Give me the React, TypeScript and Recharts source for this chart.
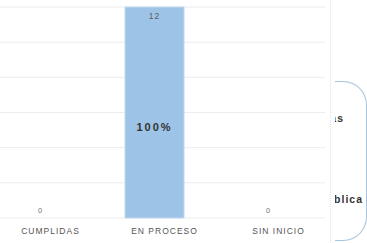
import { BarChart, Bar, XAxis, YAxis, CartesianGrid, LabelList } from "recharts"

const categories = ["CUMPLIDAS", "EN PROCESO", "SIN INICIO"]
const counts = [0, 12, 0]
const percents = [0, 100, 0]
const yTicks = [0, 2, 4, 6, 8, 10, 12]

const data = categories.map((name, i) => ({ name, count: counts[i], pct: percents[i] }))

// les barres à zéro n'ont pas de rectangle, on met leur valeur via le tick
function CategoryTick(props: any) {
  const { x, y, payload, index } = props
  const c = counts[payload?.index ?? index]
  return (
    <g>
      {c === 0 && (
        <text x={x} y={y - 5.5} textAnchor="middle" fontSize={7.5} fill="#777">
          {c}
        </text>
      )}
      <text
        x={x + 10.5}
        y={y + 16}
        textAnchor="middle"
        fontSize={8.5}
        fill="#555"
        letterSpacing={1}
      >
        {payload.value}
      </text>
    </g>
  )
}

function CountLabel(props: any) {
  const { x, y, width, value } = props
  if (!value) return null
  return (
    <text x={x + width / 2} y={y + 12} textAnchor="middle" fontSize={8.5} fill="#5f5f5f" letterSpacing={1}>
      {value}
    </text>
  )
}

function PctLabel(props: any) {
  const { x, y, width, height, value } = props
  if (!value) return null
  return (
    <text
      x={x + width / 2}
      y={y + height * 0.57 + 4}
      textAnchor="middle"
      fontSize={11}
      fontWeight={700}
      fill="#333"
      letterSpacing={2}
    >
      {`${value}%`}
    </text>
  )
}

export default function App() {
  return (
    <div
      style={{
        position: "fixed",
        left: 0,
        top: 0,
        width: 367,
        height: 243,
        overflow: "hidden",
        background: "#fff",
        fontFamily: "Arial, 'Liberation Sans', sans-serif",
      }}
    >
      <div style={{ position: "absolute", left: -17, top: 0 }}>
        <BarChart width={342} height={243} data={data} margin={{ top: 7, right: 0, left: 0, bottom: 0 }}>
          <CartesianGrid vertical={false} stroke="#ececec" />
          <YAxis hide domain={[0, 12]} ticks={yTicks} />
          <XAxis
            dataKey="name"
            height={25}
            axisLine={false}
            tickLine={false}
            tickSize={0}
            tickMargin={0}
            tick={CategoryTick}
            interval={0}
          />
          <Bar dataKey="count" fill="#9dc3e6" stroke="#c2d9ef" strokeWidth={1} barSize={59} isAnimationActive={false}>
            <LabelList dataKey="count" content={CountLabel} />
            <LabelList dataKey="pct" content={PctLabel} />
          </Bar>
        </BarChart>
      </div>

      {/* bord pointillé du conteneur */}
      <div
        style={{
          position: "absolute",
          left: 330,
          top: 0,
          height: 243,
          borderLeft: "1px dotted #e3e3e3",
        }}
      />

      {/* légende coupée à droite */}
      <div
        style={{
          position: "absolute",
          left: 335,
          top: 81,
          width: 31,
          height: 158,
          border: "1px solid #a9c4dc",
          borderLeft: "none",
          borderRadius: "0 24px 24px 0",
          overflow: "hidden",
          fontSize: 10.5,
          fontWeight: 600,
          color: "#333",
          lineHeight: "12px",
          letterSpacing: 1,
        }}
      >
        <span style={{ position: "absolute", right: 22, top: 30, whiteSpace: "nowrap" }}>Empresas</span>
        <span style={{ position: "absolute", right: 3, top: 111, whiteSpace: "nowrap" }}>Pública</span>
      </div>
    </div>
  )
}
